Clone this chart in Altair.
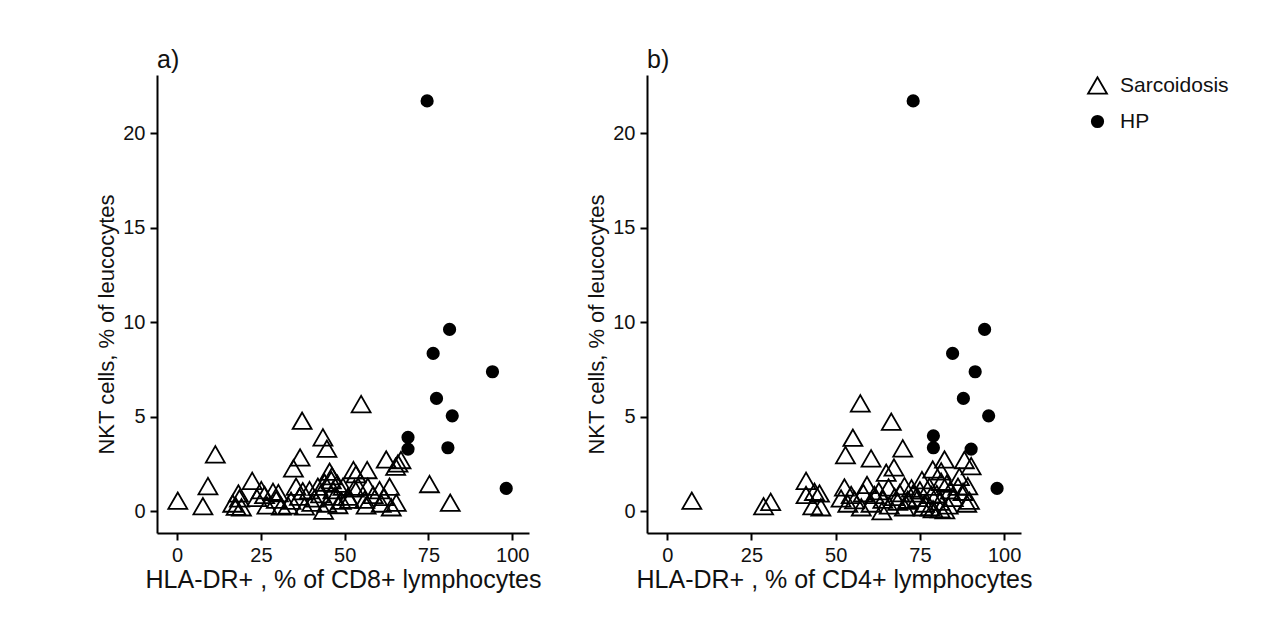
import altair as alt
import pandas as pd

# ---------------- data ----------------
# Panel a: HLA-DR+ % of CD8+ lymphocytes vs NKT cells % of leucocytes
a_sarc_x = [54.9, 37.3, 43.5, 44.7, 11.4, 36.7, 34.7, 62.4, 65.9, 66.8, 65.2, 45.5, 52.6, 56.7,
            22.4, 9.2, 75.3, 0.2, 7.7, 81.5, 43.7, 65.4, 16.6, 17.6, 18.3, 18.6, 19.2, 25.1,
            26.1, 26.8, 28.6, 29.6, 31.1, 33.1, 35.5, 36.5, 38.0, 39.5, 41.0, 42.0, 44.7, 46.2,
            46.0, 46.5, 47.0, 48.0, 49.5, 51.0, 53.4, 54.0, 56.0, 52.9, 56.9, 56.4, 60.4, 60.9,
            63.4, 63.9, 51.4, 40.2, 42.8, 47.8, 58.5, 34.0, 30.2, 44.0, 49.0, 61.8, 37.5, 23.8]
a_sarc_y = [5.66, 4.78, 3.90, 3.30, 3.00, 2.84, 2.26, 2.73, 2.52, 2.70, 2.35, 2.08, 2.17, 2.17,
            1.60, 1.32, 1.43, 0.55, 0.26, 0.44, 0.02, 0.44, 0.40, 0.23, 0.93, 0.67, 0.20, 1.11,
            0.85, 0.30, 1.02, 0.60, 0.25, 0.30, 1.29, 0.76, 0.25, 1.11, 0.67, 1.29, 0.40, 1.85,
            1.64, 1.11, 0.76, 0.32, 1.29, 0.76, 1.95, 1.29, 0.60, 1.20, 1.29, 0.30, 1.11, 0.40,
            1.29, 0.20, 0.60, 0.45, 0.90, 1.45, 0.85, 0.55, 0.95, 1.50, 0.55, 0.75, 1.05, 0.70]
a_hp_x = [74.6, 81.3, 76.4, 94.1, 77.4, 82.1, 68.9, 68.9, 80.8, 98.2]
a_hp_y = [21.7, 9.61, 8.34, 7.37, 5.96, 5.04, 3.90, 3.28, 3.35, 1.20]

# Panel b: HLA-DR+ % of CD4+ lymphocytes vs NKT cells % of leucocytes
b_sarc_x = [57.3, 66.5, 55.1, 69.9, 52.9, 60.5, 82.3, 88.2, 90.2, 67.3, 65.0, 78.8, 81.3, 41.2,
            75.6, 59.3, 70.4, 86.7, 89.2, 52.6, 65.7, 43.7, 45.2, 7.3, 30.7, 28.6, 43.2, 45.6,
            89.7, 63.7, 78.0, 81.0, 51.6, 41.2, 53.6, 55.6, 57.6, 60.5, 65.9, 68.4, 70.4, 71.4,
            74.4, 76.4, 78.4, 78.9, 80.9, 82.4, 83.4, 84.9, 88.9, 77.8, 81.3, 75.0, 86.3, 87.8,
            73.0, 61.5, 54.6, 67.5, 71.4, 62.8, 58.2, 72.5, 80.0, 84.0, 69.0, 76.0, 83.0, 64.0]
b_sarc_y = [5.70, 4.73, 3.88, 3.32, 2.96, 2.79, 2.73, 2.70, 2.38, 2.31, 2.03, 2.20, 2.10, 1.60,
            1.64, 1.38, 1.32, 1.81, 1.32, 1.25, 1.25, 1.02, 0.93, 0.55, 0.49, 0.26, 0.26, 0.20,
            0.55, 0.00, 0.20, 0.10, 0.67, 0.85, 0.40, 0.58, 0.20, 0.40, 0.30, 0.50, 0.20, 0.60,
            0.70, 0.40, 0.85, 0.10, 0.50, 0.05, 0.30, 0.70, 0.40, 1.29, 1.55, 1.10, 1.29, 1.02,
            0.93, 0.85, 0.85, 0.75, 0.55, 1.05, 0.95, 1.20, 0.90, 1.10, 0.95, 0.20, 1.45, 0.60]
b_hp_x = [73.0, 94.2, 84.7, 91.4, 87.9, 95.4, 79.0, 79.0, 90.2, 97.9]
b_hp_y = [21.7, 9.61, 8.34, 7.37, 5.96, 5.04, 3.98, 3.35, 3.28, 1.20]

groups = ["Sarcoidosis", "HP"]
x_ticks = [0, 25, 50, 75, 100]
y_ticks = [0, 5, 10, 15, 20]
y_title = "NKT cells, % of leucocytes"

FONT = "Liberation Sans"
INK = "#111111"


def make_df(sx, sy, hx, hy):
    return pd.DataFrame({
        "x": sx + hx,
        "y": sy + hy,
        "group": [groups[0]] * len(sx) + [groups[1]] * len(hx),
    })


def panel(df, letter, xtitle, width, show_legend):
    if show_legend:
        legend = alt.Legend(
            title=None, orient="none", legendX=440, legendY=0,
            labelFont=FONT, labelFontSize=21, labelColor=INK, labelOffset=12,
            symbolStrokeWidth=1.8, rowPadding=12, padding=0,
        )
    else:
        legend = None
    return alt.Chart(
        df,
        title=alt.Title(letter, anchor="start", frame="group", fontSize=25,
                        fontWeight="normal", font=FONT, color=INK, offset=2),
    ).mark_point(filled=True, strokeWidth=1.8, opacity=1).encode(
        x=alt.X("x:Q", scale=alt.Scale(domain=[-6, 105], nice=False, zero=False),
                axis=alt.Axis(values=x_ticks, title=xtitle)),
        y=alt.Y("y:Q", scale=alt.Scale(domain=[-1.16, 23.07], nice=False, zero=False),
                axis=alt.Axis(values=y_ticks, title=y_title, titleY=249)),
        shape=alt.Shape("group:N", scale=alt.Scale(domain=groups, range=["triangle-up", "circle"]),
                        legend=legend),
        fill=alt.Fill("group:N", scale=alt.Scale(domain=groups, range=["transparent", "black"]),
                      legend=legend),
        stroke=alt.Stroke("group:N", scale=alt.Scale(domain=groups, range=["black", "black"]),
                          legend=legend),
        size=alt.Size("group:N", scale=alt.Scale(domain=groups, range=[360, 130]),
                      legend=legend),
    ).properties(width=width, height=458)


pa = panel(make_df(a_sarc_x, a_sarc_y, a_hp_x, a_hp_y), "a)",
           "HLA-DR+ , % of CD8+ lymphocytes", 372, False)
pb = panel(make_df(b_sarc_x, b_sarc_y, b_hp_x, b_hp_y), "b)",
           "HLA-DR+ , % of CD4+ lymphocytes", 374, True)

chart = alt.hconcat(pa, pb, spacing=118, bounds="flush").resolve_legend(
    shape="independent", fill="independent", size="independent", stroke="independent"
).properties(
    padding={"left": 87, "top": 40, "right": 10, "bottom": 10}
).configure(
    background="white"
).configure_view(stroke=None).configure_axis(
    grid=False,
    domainColor="black", domainWidth=2,
    tickColor="black", tickWidth=2, tickSize=7,
    labelFont=FONT, labelFontSize=20, labelColor=INK, labelPadding=5,
    titleFont=FONT, titleFontSize=22, titleFontWeight="normal", titleColor=INK,
    titlePadding=4,
).configure_axisX(labelPadding=5, titlePadding=2, titleFontSize=25)

chart.save("out.html", embed_options={"renderer": "svg", "actions": False})
